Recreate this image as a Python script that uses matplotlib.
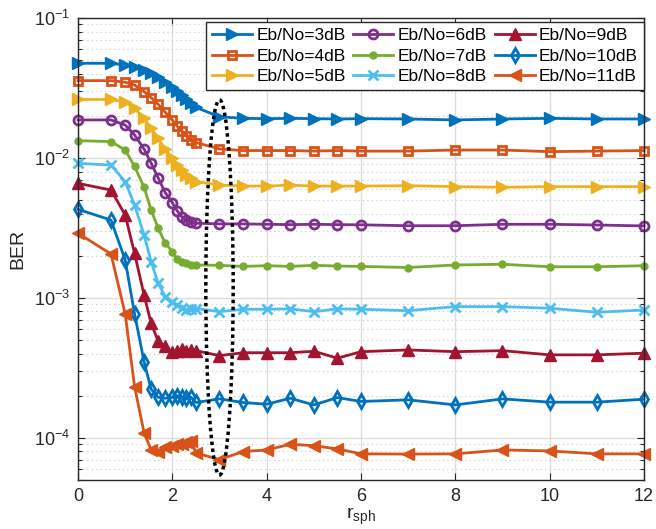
import matplotlib
matplotlib.use("Agg")
import matplotlib.pyplot as plt
from matplotlib.patches import Ellipse
from matplotlib.transforms import blended_transform_factory
from matplotlib.ticker import LogLocator, NullFormatter

plt.rcParams['font.family'] = ['Liberation Sans', 'DejaVu Sans']
plt.rcParams['mathtext.default'] = 'regular'

r_sph = [0, 0.7, 1.0, 1.2, 1.4, 1.55, 1.7, 1.85, 2.0, 2.1, 2.2, 2.3, 2.4, 2.5,
         3, 3.5, 4, 4.5, 5, 5.5, 6, 7, 8, 9, 10, 11, 12]

ber_3dB = [0.0475, 0.0475, 0.0462, 0.0449, 0.0425, 0.0403, 0.0377, 0.0351, 0.0323, 0.0303,
           0.0282, 0.0262, 0.0246, 0.0230, 0.0197, 0.0192, 0.0191, 0.0192, 0.0191, 0.0190,
           0.0191, 0.0190, 0.0187, 0.0190, 0.0192, 0.0190, 0.0190]
ber_4dB = [0.0357, 0.0357, 0.0348, 0.0332, 0.0298, 0.0270, 0.0242, 0.0212, 0.0187, 0.0169,
           0.0156, 0.0144, 0.0134, 0.0129, 0.0116, 0.0113, 0.0113, 0.0113, 0.0112, 0.0113,
           0.0112, 0.0112, 0.0114, 0.0114, 0.0111, 0.0112, 0.0113]
ber_5dB = [0.0262, 0.0262, 0.0252, 0.0226, 0.0192, 0.0163, 0.0138, 0.0115, 0.0100, 0.0089,
           0.0082, 0.00756, 0.00716, 0.00678, 0.00641, 0.0063, 0.0063, 0.0064, 0.0063, 0.0063,
           0.0063, 0.00634, 0.00624, 0.00618, 0.00624, 0.00624, 0.00624]
ber_6dB = [0.0187, 0.0187, 0.0172, 0.0146, 0.0116, 0.0092, 0.0072, 0.00565, 0.0048, 0.0042,
           0.0038, 0.0036, 0.00348, 0.00342, 0.00338, 0.00338, 0.00336, 0.00334, 0.00336, 0.00334,
           0.00333, 0.00328, 0.00328, 0.00336, 0.00336, 0.00332, 0.00327]
ber_7dB = [0.0133, 0.0131, 0.0114, 0.0087, 0.0062, 0.00425, 0.00315, 0.00246, 0.00214, 0.00189,
           0.00182, 0.00177, 0.00172, 0.00172, 0.00171, 0.00168, 0.00170, 0.00168, 0.00171, 0.00169,
           0.00168, 0.00165, 0.00172, 0.00174, 0.00167, 0.00167, 0.00170]
ber_8dB = [0.00916, 0.0089, 0.00678, 0.00462, 0.00282, 0.00182, 0.00127, 0.00102, 0.00094, 0.00089,
           0.000845, 0.00082, 0.00083, 0.00084, 0.000798, 0.00083, 0.00083, 0.000835, 0.000798, 0.000835,
           0.00083, 0.000811, 0.000867, 0.000867, 0.000844, 0.00079, 0.00082]
ber_9dB = [0.00659, 0.0059, 0.00392, 0.00208, 0.00105, 0.00066, 0.00049, 0.00045, 0.00041, 0.000415,
           0.00043, 0.000415, 0.000425, 0.00042, 0.000387, 0.000406, 0.000406, 0.000406, 0.000416, 0.000371,
           0.000413, 0.000425, 0.000413, 0.00042, 0.000392, 0.000392, 0.000403]
ber_10dB = [0.0043, 0.0036, 0.00187, 0.000769, 0.000351, 0.000223, 0.000195, 0.000192, 0.000195, 0.0002,
            0.000195, 0.000192, 0.000195, 0.000179, 0.00019, 0.000179, 0.000174, 0.000192, 0.000172, 0.000194,
            0.000182, 0.000187, 0.000172, 0.00019, 0.00018, 0.00018, 0.000189]
ber_11dB = [0.0029, 0.00206, 0.000769, 0.000232, 0.000109, 8.2e-5, 7.9e-5, 8.6e-5, 8.7e-5, 9.1e-5,
            9.0e-5, 9.4e-5, 9.5e-5, 7.8e-5, 7.0e-5, 7.98e-5, 8.2e-5, 9.0e-5, 8.8e-5, 8.34e-5,
            7.69e-5, 7.66e-5, 7.69e-5, 8.2e-5, 8.07e-5, 7.69e-5, 7.69e-5]

labels = ['Eb/No=3dB', 'Eb/No=4dB', 'Eb/No=5dB', 'Eb/No=6dB', 'Eb/No=7dB',
          'Eb/No=8dB', 'Eb/No=9dB', 'Eb/No=10dB', 'Eb/No=11dB']
series = [ber_3dB, ber_4dB, ber_5dB, ber_6dB, ber_7dB, ber_8dB, ber_9dB, ber_10dB, ber_11dB]
colors = ['#0072BD', '#D95319', '#EDB120', '#7E2F8E', '#77AC30', '#4DBEEE', '#A2142F',
          '#0072BD', '#D95319']
styles = [
    dict(marker='>', ms=9, mfc=None),
    dict(marker='s', ms=6, mfc='none', mew=2),
    dict(marker='>', ms=9, mfc=None),
    dict(marker='o', ms=6.5, mfc='none', mew=2),
    dict(marker='o', ms=5, mfc=None),
    dict(marker='x', ms=7, mfc=None, mew=2),
    dict(marker='^', ms=9, mfc=None),
    dict(marker='d', ms=7, mfc='none', mew=2),
    dict(marker='<', ms=9, mfc=None),
]

fig = plt.figure(figsize=(6.56, 5.29), dpi=100)
ax = fig.add_axes([0.1189, 0.0926, 0.8628, 0.8733])

for y, lab, c, st in zip(series, labels, colors, styles):
    kw = dict(color=c, lw=2, label=lab, marker=st['marker'], ms=st['ms'],
              mec=c, mew=st.get('mew', 1))
    kw['mfc'] = st['mfc'] if st['mfc'] is not None else c
    ax.plot(r_sph, y, clip_on=False, **kw)

ax.set_yscale('log')
ax.set_xlim(0, 12)
ax.set_ylim(5e-5, 1e-1)
ax.set_xticks([0, 2, 4, 6, 8, 10, 12])
ax.yaxis.set_major_locator(LogLocator(base=10, numticks=10))
ax.yaxis.set_minor_locator(LogLocator(base=10, subs=range(2, 10), numticks=20))
ax.yaxis.set_minor_formatter(NullFormatter())

ax.grid(True, which='major', color='#dcdcdc', lw=1, ls='-')
ax.grid(True, which='minor', axis='y', color='#c8c8c8', lw=0.8, ls=(0, (1, 3)))
ax.set_axisbelow(True)

ax.tick_params(which='both', direction='in', top=True, right=True, colors='#262626',
               labelsize=13)
ax.tick_params(which='major', length=5, width=0.8)
ax.tick_params(which='minor', length=3, width=0.8)
ax.tick_params(axis='x', pad=6)
ax.tick_params(axis='y', pad=6)
for s in ax.spines.values():
    s.set_color('#262626')
    s.set_linewidth(1)

ax.set_xlabel('r$_{sph}$', fontsize=14, color='#262626', labelpad=0)
ax.set_ylabel('BER', fontsize=14, color='#262626', labelpad=5)

tr = blended_transform_factory(ax.transData, ax.transAxes)
ell = Ellipse((3.0, 0.4167), width=0.58, height=0.812, transform=tr, fill=False,
              edgecolor='black', lw=2.5, ls=(0, (1, 1)), zorder=5, clip_on=False)
ax.add_patch(ell)

leg = ax.legend(loc='upper right', bbox_to_anchor=(1.0, 0.992), ncol=3, fontsize=12.5,
                frameon=True, fancybox=False, framealpha=1, edgecolor='#262626',
                borderaxespad=0, handlelength=2.3, handletextpad=0.25, columnspacing=0.45,
                labelspacing=0.32, borderpad=0.35)
leg.get_frame().set_linewidth(1)
leg.set_zorder(10)

fig.savefig('out.png', dpi=100)
